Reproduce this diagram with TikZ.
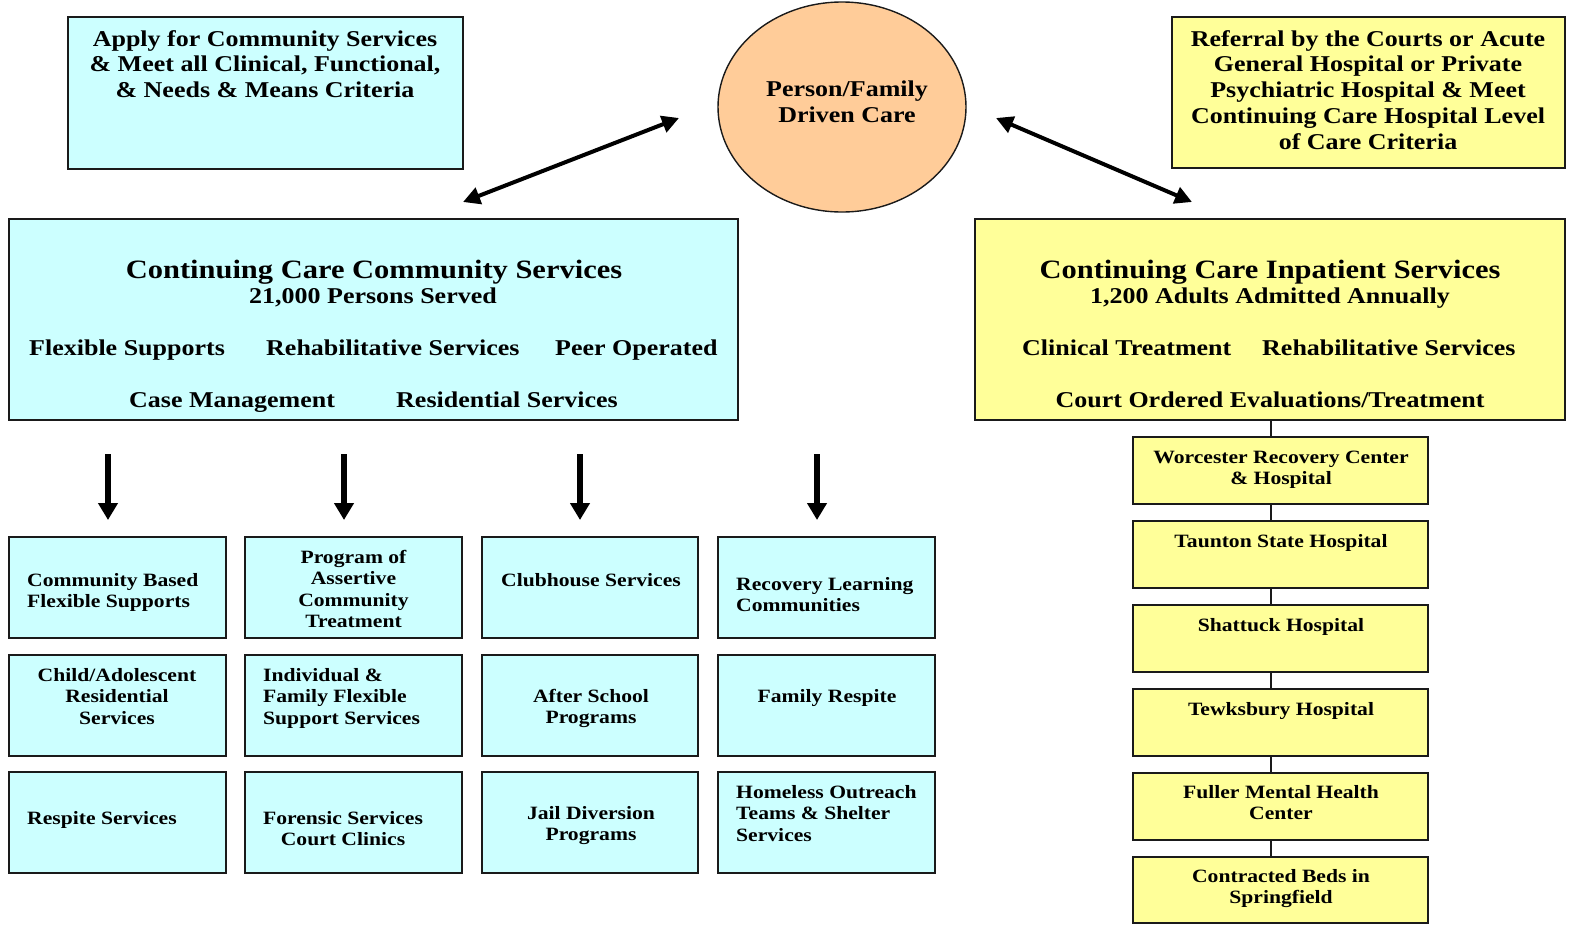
\documentclass[tikz,border=0pt]{standalone}
\usepackage{fontspec}
\setmainfont{Liberation Serif}[FakeStretch=1.15]
\usetikzlibrary{arrows.meta,shapes.geometric}
\definecolor{cyanbg}{HTML}{CCFFFF}
\definecolor{yelbg}{HTML}{FFFF99}
\definecolor{peach}{HTML}{FFCC99}
\definecolor{edgec}{HTML}{1A1A1A}
\newcommand\mybox[6]{%
  \pgfmathsetmacro\bw{#5-#3}\pgfmathsetmacro\bh{#6-#4}%
  \node[#2, minimum width=\bw pt, minimum height=\bh pt] (#1) at ({(#3+#5)/2},{(#4+#6)/2}) {};}
\begin{document}
\begin{tikzpicture}[x=1pt,y=-1pt,
  box/.style={draw=edgec, line width=1.4pt, inner sep=0, outer sep=0},
  cbox/.style={box, fill=cyanbg},
  ybox/.style={box, fill=yelbg},
  txt/.style={inner sep=0, font=\fontsize{22.6}{25.8}\selectfont\bfseries},
  ttl/.style={inner sep=0, font=\fontsize{26.5}{30}\selectfont\bfseries},
  sm/.style={inner sep=0, font=\fontsize{18.8}{21.6}\selectfont\bfseries},
  dbl/.style={line width=4pt, {Triangle[length=17pt,width=17pt]}-{Triangle[length=17pt,width=17pt]}},
  down/.style={line width=6.5pt, -{Triangle[length=17pt,width=19pt]}},
  link/.style={draw=edgec, line width=1.4pt}]
\useasboundingbox[fill=white] (0,0) rectangle (1570,927);

% top row (multi-line nodes: base anchor = baseline of the last line)
\mybox{apply}{cbox}{68}{17}{463}{169}
\node[txt, align=center, anchor=base] (tapply) at (265,97.6) {Apply for Community Services\\\& Meet all Clinical, Functional,\\\& Needs \& Means Criteria};

\node[draw=edgec, line width=1.4pt, fill=peach, ellipse, minimum width=248pt, minimum height=210pt, inner sep=0] (pfc) at (842,107) {};
\node[txt, align=center, anchor=base] (tpfc) at (847,122) {Person/Family\\Driven Care};

\mybox{referral}{ybox}{1172}{17}{1565}{168}
\node[txt, align=center, anchor=base] (tref) at (1368,149.2) {Referral by the Courts or Acute\\General Hospital or Private\\Psychiatric Hospital \& Meet\\Continuing Care Hospital Level\\of Care Criteria};

% main boxes
\mybox{comm}{cbox}{9}{219}{738}{420}
\node[ttl, anchor=base] (tcomm) at (374,278) {Continuing Care Community Services};
\node[txt, anchor=base] (tcomm2) at (373,303) {21,000 Persons Served};
\node[txt, anchor=base west] (tflex) at (29,355) {Flexible Supports};
\node[txt, anchor=base west] (trehab) at (266,355) {Rehabilitative Services};
\node[txt, anchor=base west] (tpeer) at (555,355) {Peer Operated};
\node[txt, anchor=base west] (tcase) at (129,407) {Case Management};
\node[txt, anchor=base west] (tres) at (396,407) {Residential Services};

\mybox{inp}{ybox}{975}{219}{1565}{420}
\node[ttl, anchor=base] (tinp) at (1270,278) {Continuing Care Inpatient Services};
\node[txt, anchor=base] (tinp2) at (1270,303) {1,200 Adults Admitted Annually};
\node[txt, anchor=base west] (tclin) at (1022,355) {Clinical Treatment};
\node[txt, anchor=base west] (trehab2) at (1262,355) {Rehabilitative Services};
\node[txt, anchor=base] (tcourt) at (1270,407) {Court Ordered Evaluations/Treatment};

% arrows top
\coordinate (la) at (463,202);
\coordinate (lb) at (679,118);
\draw[dbl] (la) -- (lb);
\coordinate (ra) at (996,118);
\coordinate (rb) at (1192,202);
\draw[dbl] (ra) -- (rb);

% grid of community boxes
\mybox{g11}{cbox}{9}{537}{226}{638}
\mybox{g12}{cbox}{245}{537}{462}{638}
\mybox{g13}{cbox}{482}{537}{698}{638}
\mybox{g14}{cbox}{718}{537}{935}{638}
\mybox{g21}{cbox}{9}{655}{226}{756}
\mybox{g22}{cbox}{245}{655}{462}{756}
\mybox{g23}{cbox}{482}{655}{698}{756}
\mybox{g24}{cbox}{718}{655}{935}{756}
\mybox{g31}{cbox}{9}{772}{226}{873}
\mybox{g32}{cbox}{245}{772}{462}{873}
\mybox{g33}{cbox}{482}{772}{698}{873}
\mybox{g34}{cbox}{718}{772}{935}{873}

\coordinate (d1) at (108,454);
\coordinate (d2) at (344,454);
\coordinate (d3) at (580,454);
\coordinate (d4) at (817,454);
\foreach \i in {1,2,3,4}{
  \draw[down, shorten >=17pt] (d\i) -- (d\i |- g1\i.north);
}

\node[sm, align=left, anchor=base west] (t11) at (27,607.6) {Community Based\\Flexible Supports};
\node[sm, align=center, anchor=base] (t12) at (353.5,627.8) {Program of\\Assertive\\Community\\Treatment};
\node[sm, anchor=base] (t13) at (591,586) {Clubhouse Services};
\node[sm, align=left, anchor=base west] (t14) at (736,611.6) {Recovery Learning\\Communities};

\node[sm, align=center, anchor=base] (t21) at (117,724.2) {Child/Adolescent\\Residential\\Services};
\node[sm, align=left, anchor=base west] (t22) at (263,724.2) {Individual \&\\Family Flexible\\Support Services};
\node[sm, align=center, anchor=base] (t23) at (591,723.6) {After School\\Programs};
\node[sm, anchor=base] (t24) at (827,702) {Family Respite};

\node[sm, anchor=base west] (t31) at (27,824) {Respite Services};
\node[sm, align=center, anchor=base] (t32) at (343,845.6) {Forensic Services\\Court Clinics};
\node[sm, align=center, anchor=base] (t33) at (591,840.6) {Jail Diversion\\Programs};
\node[sm, align=left, anchor=base west] (t34) at (736,841.2) {Homeless Outreach\\Teams \& Shelter\\Services};

% inpatient column
\coordinate (spine) at (1271,0);
\mybox{h1}{ybox}{1133}{437}{1428}{504}
\mybox{h2}{ybox}{1133}{521}{1428}{588}
\mybox{h3}{ybox}{1133}{605}{1428}{672}
\mybox{h4}{ybox}{1133}{689}{1428}{756}
\mybox{h5}{ybox}{1133}{773}{1428}{840}
\mybox{h6}{ybox}{1133}{857}{1428}{923}
\draw[link] (inp.south -| spine) -- (h1.north -| spine);
\draw[link] (h1.south -| spine) -- (h2.north -| spine);
\draw[link] (h2.south -| spine) -- (h3.north -| spine);
\draw[link] (h3.south -| spine) -- (h4.north -| spine);
\draw[link] (h4.south -| spine) -- (h5.north -| spine);
\draw[link] (h5.south -| spine) -- (h6.north -| spine);

\node[sm, align=center, anchor=base] (th1) at (1281,484.6) {Worcester Recovery Center\\\& Hospital};
\node[sm, anchor=base] (th2) at (1281,547) {Taunton State Hospital};
\node[sm, anchor=base] (th3) at (1281,631) {Shattuck Hospital};
\node[sm, anchor=base] (th4) at (1281,715) {Tewksbury Hospital};
\node[sm, align=center, anchor=base] (th5) at (1281,819.6) {Fuller Mental Health\\Center};
\node[sm, align=center, anchor=base] (th6) at (1281,903.6) {Contracted Beds in\\Springfield};
\end{tikzpicture}
\end{document}
